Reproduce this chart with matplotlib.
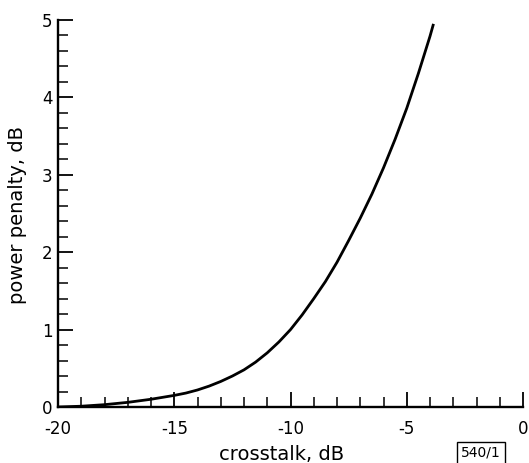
import matplotlib
matplotlib.use("Agg")
import matplotlib.pyplot as plt
from matplotlib.ticker import MultipleLocator

crosstalk_db = [-20, -19, -18, -17, -16, -15, -14.5, -14, -13.5, -13, -12.5, -12, -11.5, -11,
                -10.5, -10, -9.5, -9, -8.5, -8, -7.5, -7, -6.5, -6, -5.5, -5, -4.5, -4, -3.85]
penalty_db = [0.0, 0.01, 0.03, 0.06, 0.10, 0.15, 0.18, 0.22, 0.27, 0.33, 0.40, 0.48, 0.58, 0.70,
              0.84, 1.00, 1.19, 1.40, 1.62, 1.87, 2.15, 2.44, 2.75, 3.09, 3.46, 3.86, 4.31, 4.79, 4.95]

xticks = [-20, -15, -10, -5, 0]
xticklabels = ["-20", "-15", "-10", "-5", "0"]
yticks = [0, 1, 2, 3, 4, 5]
yticklabels = ["0", "1", "2", "3", "4", "5"]

plt.rcParams['font.family'] = ['DejaVu Sans']
fig = plt.figure(figsize=(5.29, 4.63), dpi=100)
ax = fig.add_axes([58/529, 56/463, (523-58)/529, (407-20)/463])

ax.plot(crosstalk_db, penalty_db, color="black", lw=2.0, solid_capstyle="butt",
        solid_joinstyle="round")

ax.set_xlim(-20, 0)
ax.set_ylim(0, 5)
for s in ["top", "right"]:
    ax.spines[s].set_visible(False)
for s in ["left", "bottom"]:
    ax.spines[s].set_linewidth(1.7)

ax.set_xticks(xticks)
ax.set_xticklabels(xticklabels)
ax.set_yticks(yticks)
ax.set_yticklabels(yticklabels)
ax.xaxis.set_minor_locator(MultipleLocator(1))
ax.yaxis.set_minor_locator(MultipleLocator(0.2))
ax.tick_params(which="major", direction="in", length=11, width=1.3, labelsize=12, pad=9)
ax.tick_params(which="minor", direction="in", length=7, width=1.1)
ax.tick_params(axis="y", which="major", pad=4)

ax.set_xlabel("crosstalk, dB", fontsize=14)
ax.set_ylabel("power penalty, dB", fontsize=14)
ax.xaxis.set_label_coords((282 - 58) / (523 - 58), -(454 - 407) / (407 - 20))
ax.xaxis.label.set_va("center")
ax.yaxis.set_label_coords(-(58 - 18) / (523 - 58), (407 - 215) / (407 - 20))
ax.yaxis.label.set_va("center")

fig.text(481/529, 1 - 453/463, "540/1", fontsize=10, ha="center", va="center",
         bbox=dict(boxstyle="square,pad=0.3", fc="white", ec="black", lw=1.0))

fig.savefig("out.png", dpi=100)
